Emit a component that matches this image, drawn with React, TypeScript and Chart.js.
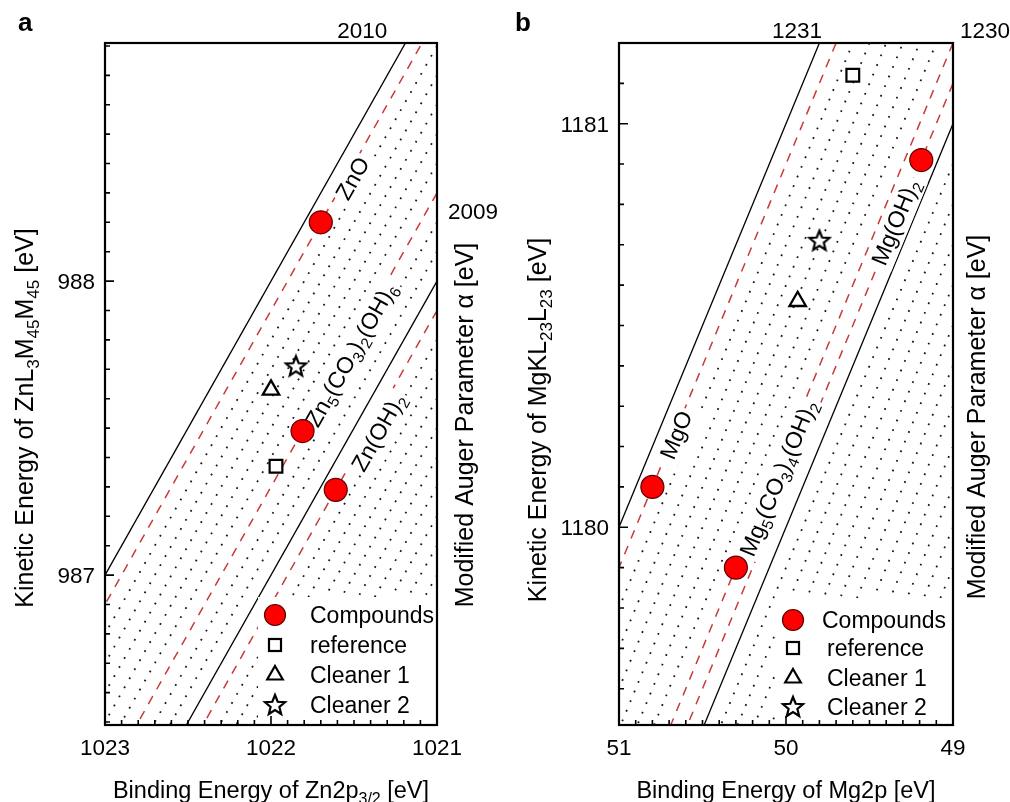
import React, { useEffect, useRef } from 'react';
import { Chart, registerables } from 'chart.js';

Chart.register(...registerables);

const FONT = '"Liberation Sans", Arial, Helvetica, sans-serif';

// ---------------- Panel a (Zn) ----------------
const xRangeA = [1021, 1023];
const yRangeA = [986.49, 988.81];
const xTicksA = [1023, 1022, 1021];
const yTicksA = [987, 988];
const solidAlphaA = [2010, 2009];
const dashedAlphaA = [2009.9, 2009.3, 2008.9];
const dottedAlphaA = [2009.8, 2009.7, 2009.6, 2009.5, 2009.4, 2009.2, 2009.1, 2008.8, 2008.7, 2008.6, 2008.5, 2008.4, 2008.3, 2008.2, 2008.1, 2008.0, 2007.9, 2007.8, 2007.7, 2007.6, 2007.5];
const compoundBeA = [1021.70, 1021.81, 1021.61];
const compoundKeA = [988.20, 987.49, 987.29];
const compoundNamesA = ['ZnO', 'Zn_{5}(CO_{3})_{2}(OH)_{6}', 'Zn(OH)_{2}'];
const compoundLabelBeA = [1021.51, 1021.52, 1021.355];
const compoundLabelKeA = [988.35, 987.75, 987.486];
const referenceBeA = [1021.97];
const referenceKeA = [987.37];
const cleaner1BeA = [1022.0];
const cleaner1KeA = [987.63];
const cleaner2BeA = [1021.85];
const cleaner2KeA = [987.71];
const alphaLabelsA = ['2010', '2009'];
const alphaLabelBeA = [1021.45, 1020.783];
const alphaLabelKeA = [988.855, 988.24];

// ---------------- Panel b (Mg) ----------------
const xRangeB = [49, 51];
const yRangeB = [1179.51, 1181.2];
const xTicksB = [51, 50, 49];
const yTicksB = [1180, 1181];
const solidAlphaB = [1231, 1230];
const dashedAlphaB = [1230.9, 1230.2, 1230.1];
const dottedAlphaB = [1230.8, 1230.7, 1230.6, 1230.5, 1230.4, 1230.3, 1229.9, 1229.8, 1229.7, 1229.6, 1229.5, 1229.4, 1229.3, 1229.2, 1229.1, 1229.0, 1228.9, 1228.8, 1228.7, 1228.6];
const compoundBeB = [50.80, 50.30, 49.19];
const compoundKeB = [1180.10, 1179.90, 1180.91];
const compoundNamesB = ['MgO', 'Mg_{5}(CO_{3})_{4}(OH)_{2}', 'Mg(OH)_{2}'];
const compoundLabelBeB = [50.659, 50.048, 49.347];
const compoundLabelKeB = [1180.229, 1180.122, 1180.756];
const referenceBeB = [49.60];
const referenceKeB = [1181.12];
const cleaner1BeB = [49.93];
const cleaner1KeB = [1180.56];
const cleaner2BeB = [49.80];
const cleaner2KeB = [1180.71];
const alphaLabelsB = ['1231', '1230'];
const alphaLabelBeB = [49.934, 48.808];
const alphaLabelKeB = [1181.232, 1181.232];

const legendLabels = ['Compounds', 'reference', 'Cleaner 1', 'Cleaner 2'];

const RED = '#ff0000';
const DASH_RED = '#c83a3a';

type Spec = any;

const specA: Spec = {
  letter: 'a', letterX: 18,
  xRange: xRangeA, yRange: yRangeA, xTicks: xTicksA, yTicks: yTicksA,
  solid: solidAlphaA, dashed: dashedAlphaA, dotted: dottedAlphaA,
  cBe: compoundBeA, cKe: compoundKeA, cNames: compoundNamesA, cLBe: compoundLabelBeA, cLKe: compoundLabelKeA,
  rBe: referenceBeA, rKe: referenceKeA, c1Be: cleaner1BeA, c1Ke: cleaner1KeA, c2Be: cleaner2BeA, c2Ke: cleaner2KeA,
  aLabels: alphaLabelsA, aBe: alphaLabelBeA, aKe: alphaLabelKeA,
  padding: { left: 105, right: 68, top: 43, bottom: 77 },
  leftTitle: 'Kinetic Energy of ZnL_{3}M_{45}M_{45} [eV]', leftTitlePos: [33, 418],
  rightTitle: 'Modified Auger Parameter \u03b1 [eV]', rightTitlePos: [473, 425],
  bottomTitle: 'Binding Energy of Zn2p_{3/2} [eV]',
  legend: { boxLeft: 258, boxTop: 597, markerX: 275, textX: 310, rows: [615, 645, 675, 705], textOff: [0, 0, 0, 0] },
};

const specB: Spec = {
  letter: 'b', letterX: 10,
  xRange: xRangeB, yRange: yRangeB, xTicks: xTicksB, yTicks: yTicksB,
  solid: solidAlphaB, dashed: dashedAlphaB, dotted: dottedAlphaB,
  cBe: compoundBeB, cKe: compoundKeB, cNames: compoundNamesB, cLBe: compoundLabelBeB, cLKe: compoundLabelKeB,
  rBe: referenceBeB, rKe: referenceKeB, c1Be: cleaner1BeB, c1Ke: cleaner1KeB, c2Be: cleaner2BeB, c2Ke: cleaner2KeB,
  aLabels: alphaLabelsB, aBe: alphaLabelBeB, aKe: alphaLabelKeB,
  padding: { left: 114, right: 57, top: 43, bottom: 77 },
  leftTitle: 'Kinetic Energy of MgKL_{23}L_{23} [eV]', leftTitlePos: [41, 420],
  rightTitle: 'Modified Auger Parameter \u03b1 [eV]', rightTitlePos: [480, 417],
  bottomTitle: 'Binding Energy of Mg2p [eV]',
  legend: { boxLeft: 271, boxTop: 598, markerX: 288, textX: 317, rows: [620, 648, 678, 707], textOff: [0, 5, 5, 5] },
};

function makeStar(): HTMLCanvasElement {
  const c = document.createElement('canvas');
  c.width = 26; c.height = 26;
  const ctx = c.getContext('2d')!;
  const cx = 13, cy = 13.5, ro = 10.5, ri = 4.6;
  ctx.beginPath();
  for (let i = 0; i < 10; i++) {
    const r = i % 2 === 0 ? ro : ri;
    const a = -Math.PI / 2 + (i * Math.PI) / 5;
    const px = cx + r * Math.cos(a), py = cy + r * Math.sin(a);
    if (i === 0) ctx.moveTo(px, py); else ctx.lineTo(px, py);
  }
  ctx.closePath();
  ctx.fillStyle = '#fff';
  ctx.fill();
  ctx.lineWidth = 2.2;
  ctx.lineJoin = 'miter';
  ctx.strokeStyle = '#000';
  ctx.stroke();
  return c;
}

type Seg = { t: string; sub: boolean };
function parseRich(s: string): Seg[] {
  const out: Seg[] = [];
  const re = /_\{([^}]*)\}/g;
  let last = 0;
  let m: RegExpExecArray | null;
  while ((m = re.exec(s))) {
    if (m.index > last) out.push({ t: s.slice(last, m.index), sub: false });
    out.push({ t: m[1], sub: true });
    last = re.lastIndex;
  }
  if (last < s.length) out.push({ t: s.slice(last), sub: false });
  return out;
}

function drawRich(ctx: CanvasRenderingContext2D, s: string, x: number, y: number, size: number,
  align: 'left' | 'center' | 'right', rotation = 0, yShift = 0, bg = false) {
  const segs = parseRich(s);
  const mainF = `${size}px ${FONT}`;
  const subF = `${size * 0.68}px ${FONT}`;
  let w = 0;
  const widths = segs.map((g) => {
    ctx.font = g.sub ? subF : mainF;
    const ww = ctx.measureText(g.t).width;
    w += ww;
    return ww;
  });
  ctx.save();
  ctx.translate(x, y);
  ctx.rotate(rotation);
  let cx = align === 'center' ? -w / 2 : align === 'right' ? -w : 0;
  if (bg) {
    ctx.fillStyle = '#fff';
    ctx.fillRect(cx - 3, yShift - size * 0.8, w + 6, size * 1.12);
  }
  ctx.textAlign = 'left';
  ctx.textBaseline = 'alphabetic';
  ctx.fillStyle = '#000';
  segs.forEach((g, i) => {
    ctx.font = g.sub ? subF : mainF;
    ctx.fillText(g.t, cx, yShift + (g.sub ? size * 0.24 : 0));
    cx += widths[i];
  });
  ctx.restore();
}

function drawLegendMarker(ctx: CanvasRenderingContext2D, kind: number, x: number, y: number, star: HTMLCanvasElement) {
  ctx.save();
  ctx.strokeStyle = '#000';
  if (kind === 0) {
    ctx.beginPath();
    ctx.arc(x, y, 10.5, 0, Math.PI * 2);
    ctx.fillStyle = RED;
    ctx.fill();
    ctx.lineWidth = 1.2;
    ctx.strokeStyle = '#5a0000';
    ctx.stroke();
  } else if (kind === 1) {
    ctx.fillStyle = '#fff';
    ctx.lineWidth = 2.2;
    ctx.fillRect(x - 6, y - 6, 12, 12);
    ctx.strokeRect(x - 6, y - 6, 12, 12);
  } else if (kind === 2) {
    const r = 9;
    ctx.beginPath();
    ctx.moveTo(x, y - r);
    ctx.lineTo(x + r * Math.sin(2 * Math.PI / 3), y - r * Math.cos(2 * Math.PI / 3));
    ctx.lineTo(x + r * Math.sin(4 * Math.PI / 3), y - r * Math.cos(4 * Math.PI / 3));
    ctx.closePath();
    ctx.fillStyle = '#fff';
    ctx.fill();
    ctx.lineWidth = 2.2;
    ctx.stroke();
  } else {
    ctx.drawImage(star, x - star.width / 2, y - star.height / 2);
  }
  ctx.restore();
}

function drawLineLabels(chart: any, spec: Spec) {
  const ctx: CanvasRenderingContext2D = chart.ctx;
  const xs = chart.scales.x;
  const ys = chart.scales.y;
  const p1x = xs.getPixelForValue(spec.xRange[1]);
  const p1y = ys.getPixelForValue(spec.yRange[0]);
  const p2x = xs.getPixelForValue(spec.xRange[1] - 1);
  const p2y = ys.getPixelForValue(spec.yRange[0] + 1);
  const ang = Math.atan2(p2y - p1y, p2x - p1x);
  spec.cNames.forEach((name: string, i: number) => {
    const px = xs.getPixelForValue(spec.cLBe[i]);
    const py = ys.getPixelForValue(spec.cLKe[i]);
    drawRich(ctx, name, px, py, 23, 'center', ang, 8, true);
  });
}

function decorPlugin(spec: Spec, star: HTMLCanvasElement) {
  return {
    id: 'decor' + spec.letter,
    beforeDatasetsDraw(chart: any) {
      chart.$labelsDone = false;
    },
    beforeDatasetDraw(chart: any, args: any) {
      const ds = chart.data.datasets[args.index];
      if (ds && ds.isMarker && !chart.$labelsDone) {
        chart.$labelsDone = true;
        drawLineLabels(chart, spec);
      }
    },
    afterDraw(chart: any) {
      const ctx: CanvasRenderingContext2D = chart.ctx;
      const xs = chart.scales.x;
      const ys = chart.scales.y;
      const ca = chart.chartArea;

      // legend
      const L = spec.legend;
      ctx.save();
      ctx.fillStyle = '#fff';
      ctx.fillRect(L.boxLeft, L.boxTop, ca.right - L.boxLeft, ca.bottom - L.boxTop);
      ctx.restore();
      legendLabels.forEach((lab, i) => {
        drawLegendMarker(ctx, i, L.markerX, L.rows[i], star);
        drawRich(ctx, lab, L.textX + L.textOff[i], L.rows[i] + 8, 23, 'left');
      });

      // frame
      ctx.save();
      ctx.strokeStyle = '#000';
      ctx.lineWidth = 2.2;
      ctx.strokeRect(ca.left, ca.top, ca.right - ca.left, ca.bottom - ca.top);

      // ticks (inward)
      ctx.lineWidth = 1.6;
      ctx.beginPath();
      const x0 = Math.round(spec.xRange[0] * 10), x1 = Math.round(spec.xRange[1] * 10);
      for (let k = x0; k <= x1; k++) {
        const v = k / 10;
        const px = xs.getPixelForValue(v);
        const major = k % 10 === 0;
        ctx.moveTo(px, ca.bottom);
        ctx.lineTo(px, ca.bottom - (major ? 9 : 5));
      }
      const y0 = Math.ceil(spec.yRange[0] * 10 - 1e-6), y1 = Math.floor(spec.yRange[1] * 10 + 1e-6);
      for (let k = y0; k <= y1; k++) {
        const v = k / 10;
        const py = ys.getPixelForValue(v);
        const major = k % 10 === 0;
        ctx.moveTo(ca.left, py);
        ctx.lineTo(ca.left + (major ? 9 : 5), py);
      }
      ctx.stroke();
      ctx.restore();

      // tick labels
      spec.xTicks.forEach((v: number) => {
        drawRich(ctx, String(v), xs.getPixelForValue(v), ca.bottom + 30, 22.5, 'center');
      });
      spec.yTicks.forEach((v: number) => {
        drawRich(ctx, String(v), ca.left - 10, ys.getPixelForValue(v) + 8, 22.5, 'right');
      });

      // alpha labels
      spec.aLabels.forEach((lab: string, i: number) => {
        drawRich(ctx, lab, xs.getPixelForValue(spec.aBe[i]), ys.getPixelForValue(spec.aKe[i]) + 8, 22.5, 'center');
      });

      // titles
      drawRich(ctx, spec.bottomTitle, (ca.left + ca.right) / 2, 798, 23.5, 'center');
      drawRich(ctx, spec.leftTitle, spec.leftTitlePos[0], spec.leftTitlePos[1], 25, 'center', -Math.PI / 2);
      drawRich(ctx, spec.rightTitle, spec.rightTitlePos[0], spec.rightTitlePos[1], 25, 'center', -Math.PI / 2);

      // panel letter
      ctx.save();
      ctx.font = `bold 26px ${FONT}`;
      ctx.fillStyle = '#000';
      ctx.textBaseline = 'alphabetic';
      ctx.fillText(spec.letter, spec.letterX, 31);
      ctx.restore();
    },
  };
}

function lineData(alpha: number, range: number[]) {
  return range.map((be) => ({ x: be, y: alpha - be }));
}

function pts(be: number[], ke: number[]) {
  return be.map((b, i) => ({ x: b, y: ke[i] }));
}

function buildConfig(spec: Spec, star: HTMLCanvasElement): any {
  const datasets: any[] = [];
  spec.dotted.forEach((a: number) => datasets.push({
    data: lineData(a, spec.xRange), showLine: true, pointRadius: 0, borderColor: '#1a1a1a',
    borderWidth: 1.8, borderDash: [1.8, 8.6], fill: false, order: 4,
  }));
  spec.dashed.forEach((a: number) => datasets.push({
    data: lineData(a, spec.xRange), showLine: true, pointRadius: 0, borderColor: DASH_RED,
    borderWidth: 1.5, borderDash: [9, 8], fill: false, order: 3,
  }));
  spec.solid.forEach((a: number) => datasets.push({
    data: lineData(a, spec.xRange), showLine: true, pointRadius: 0, borderColor: '#000',
    borderWidth: 1.3, fill: false, order: 2,
  }));
  datasets.push({
    label: 'Compounds', isMarker: true, data: pts(spec.cBe, spec.cKe), pointStyle: 'circle', pointRadius: 11.5,
    backgroundColor: RED, borderColor: '#5a0000', borderWidth: 1.2, order: 0,
  });
  datasets.push({
    label: 'reference', isMarker: true, data: pts(spec.rBe, spec.rKe), pointStyle: 'rect', pointRadius: 9,
    backgroundColor: '#fff', borderColor: '#000', borderWidth: 2.2, order: 0,
  });
  datasets.push({
    label: 'Cleaner 1', isMarker: true, data: pts(spec.c1Be, spec.c1Ke), pointStyle: 'triangle', pointRadius: 9.5,
    backgroundColor: '#fff', borderColor: '#000', borderWidth: 2.3, order: 0,
  });
  datasets.push({
    label: 'Cleaner 2', isMarker: true, data: pts(spec.c2Be, spec.c2Ke), pointStyle: star, pointRadius: 10,
    backgroundColor: '#fff', borderColor: '#000', borderWidth: 2, order: 0,
  });
  return {
    type: 'scatter',
    data: { datasets },
    options: {
      responsive: false,
      animation: false,
      devicePixelRatio: 1,
      events: [],
      layout: { padding: spec.padding },
      plugins: { legend: { display: false }, tooltip: { enabled: false } },
      scales: {
        x: { type: 'linear', min: spec.xRange[0], max: spec.xRange[1], reverse: true, display: false },
        y: { type: 'linear', min: spec.yRange[0], max: spec.yRange[1], display: false },
      },
    },
    plugins: [decorPlugin(spec, star)],
  };
}

function Panel({ spec, left }: { spec: Spec; left: number }) {
  const ref = useRef<HTMLCanvasElement>(null);
  useEffect(() => {
    const star = makeStar();
    const chart = new Chart(ref.current!, buildConfig(spec, star));
    return () => chart.destroy();
  }, []);
  return (
    <canvas
      ref={ref}
      width={505}
      height={802}
      style={{ position: 'absolute', left, top: 0, width: 505, height: 802 }}
    />
  );
}

export default function App() {
  return (
    <div style={{ position: 'absolute', left: 0, top: 0, width: 1010, height: 802, background: '#fff' }}>
      <Panel spec={specA} left={0} />
      <Panel spec={specB} left={505} />
    </div>
  );
}
